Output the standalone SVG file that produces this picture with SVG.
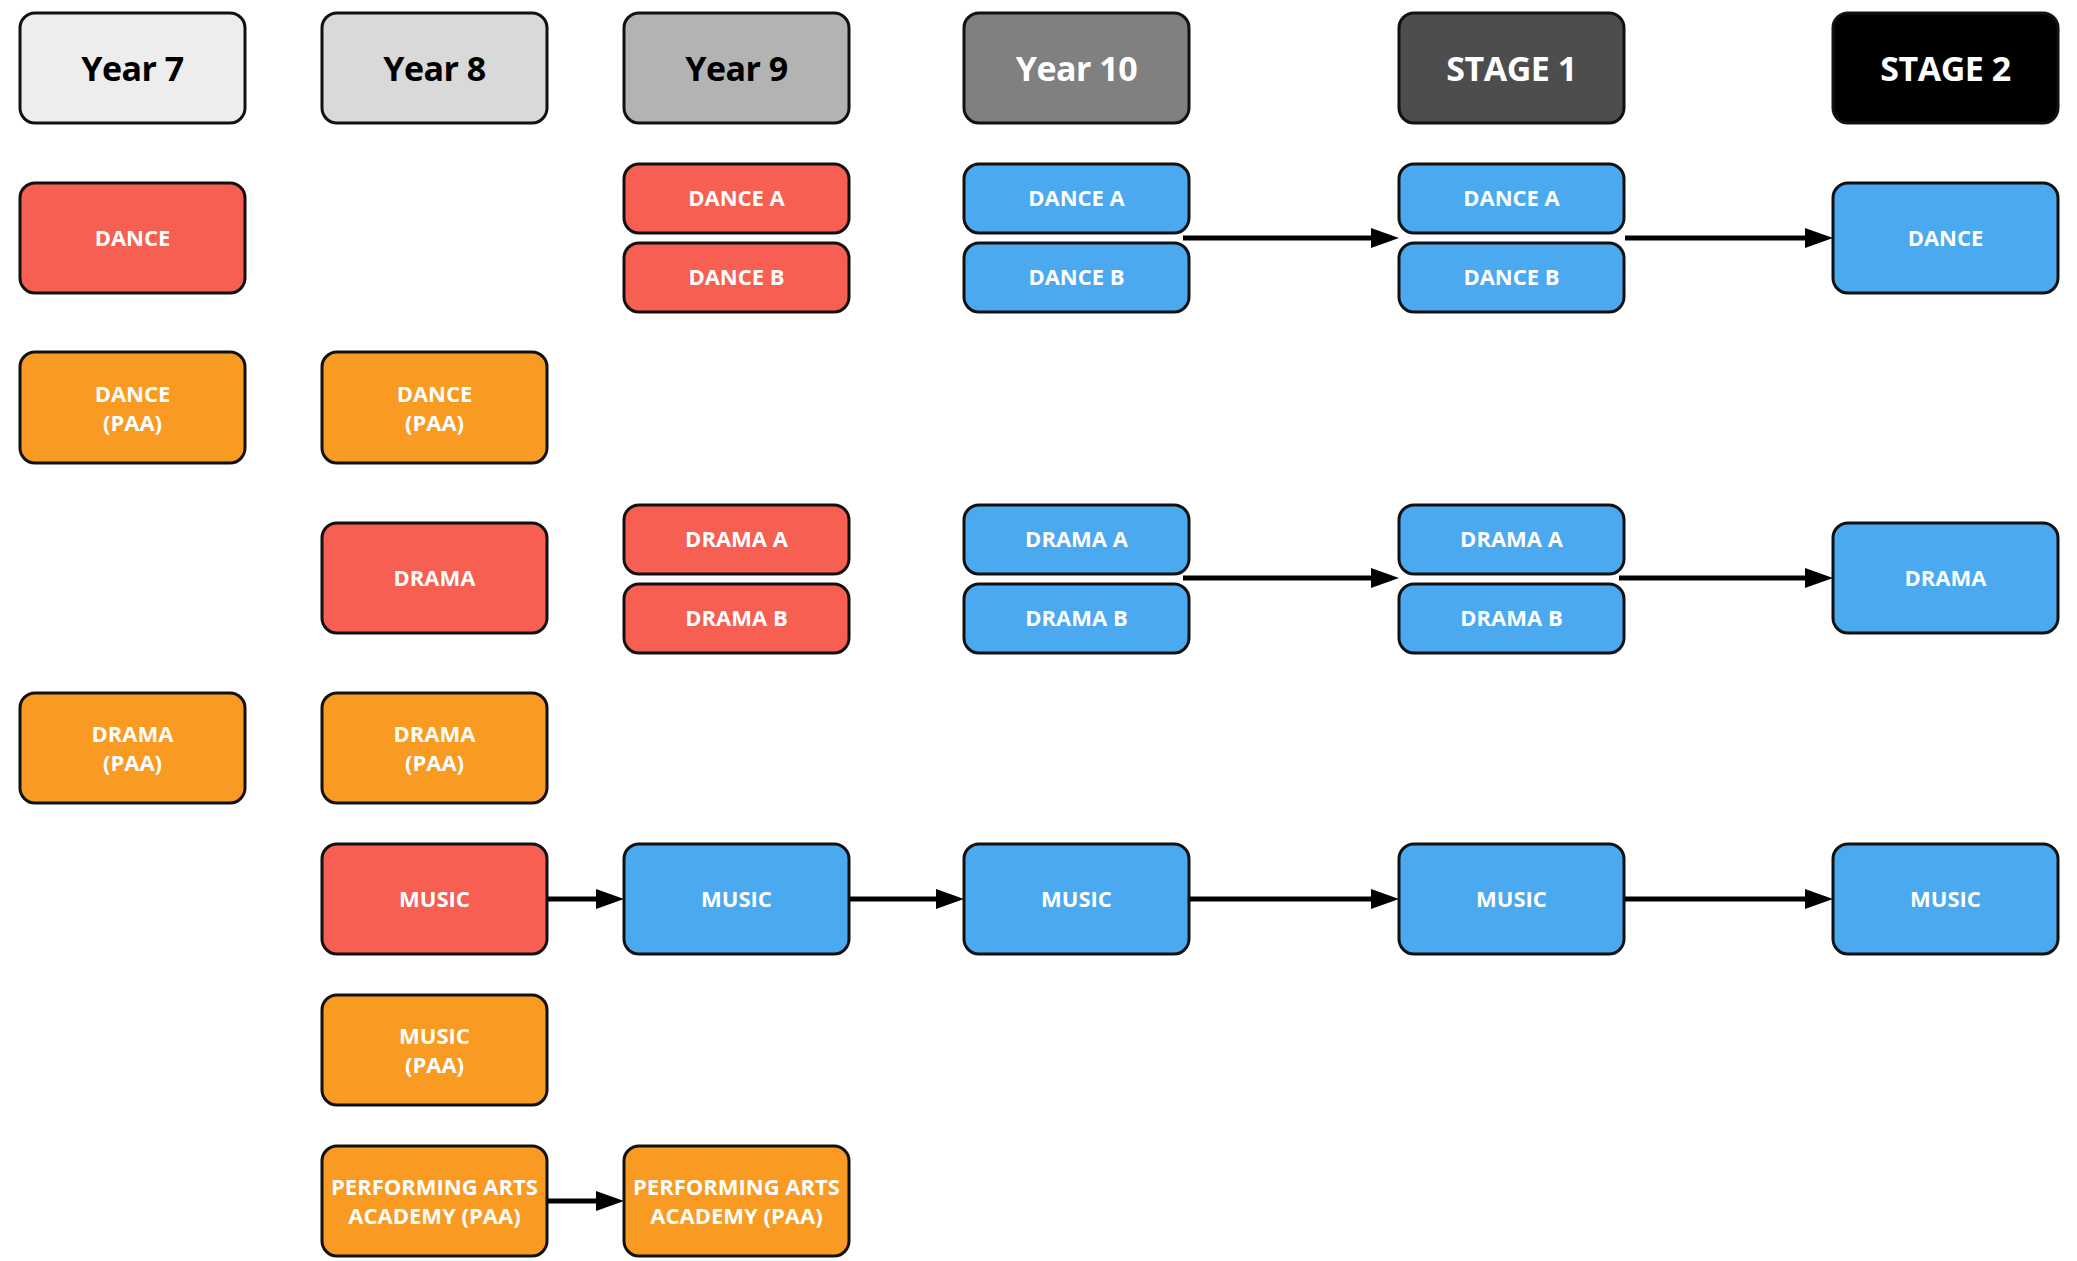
<svg xmlns="http://www.w3.org/2000/svg" width="2077" height="1261" viewBox="0 0 2077 1261">
<style>
.box{stroke:#111;stroke-width:3}
.red{fill:#F65F52}
.org{fill:#F99A22}
.blu{fill:#4BA9F0}
.t{font-family:"Open Sans","Liberation Sans",sans-serif;font-weight:700;font-size:22px;fill:#fff;text-anchor:middle}
.h{font-family:"Open Sans","Liberation Sans",sans-serif;font-weight:700;font-size:34px;text-anchor:middle;letter-spacing:-0.5px}
.c{stroke:#000;stroke-width:5;fill:none;marker-end:url(#ah)}
</style>
<defs>
<marker id="ah" markerUnits="userSpaceOnUse" markerWidth="30" markerHeight="22" refX="8" refY="10" orient="auto">
<path d="M0,0 L28,10 L0,20 Z" fill="#000"/>
</marker>
</defs>
<rect width="2077" height="1261" fill="#fff"/>

<g id="headers">
<g id="h-y7"><rect class="box" x="20" y="13" width="225" height="110" rx="15" fill="#EDEDED"/><text class="h" x="132.5" y="81" fill="#000">Year 7</text></g>
<g id="h-y8"><rect class="box" x="322" y="13" width="225" height="110" rx="15" fill="#D9D9D9"/><text class="h" x="434.5" y="81" fill="#000">Year 8</text></g>
<g id="h-y9"><rect class="box" x="624" y="13" width="225" height="110" rx="15" fill="#B3B3B3"/><text class="h" x="736.5" y="81" fill="#000">Year 9</text></g>
<g id="h-y10"><rect class="box" x="964" y="13" width="225" height="110" rx="15" fill="#808080"/><text class="h" x="1076.5" y="81" fill="#fff">Year 10</text></g>
<g id="h-s1"><rect class="box" x="1399" y="13" width="225" height="110" rx="15" fill="#4D4D4D"/><text class="h" x="1511.5" y="81" fill="#fff">STAGE 1</text></g>
<g id="h-s2"><rect class="box" x="1833" y="13" width="225" height="110" rx="15" fill="#000"/><text class="h" x="1945.5" y="81" fill="#fff">STAGE 2</text></g>
</g>

<g id="y7-dance"><rect class="box red" x="20" y="183" width="225" height="110" rx="15"/><text class="t" x="132.5" y="246">DANCE</text></g>
<g id="y7-dance-paa"><rect class="box org" x="20" y="352" width="225" height="111" rx="15"/><text class="t" x="132.5" y="402">DANCE</text><text class="t" x="132.5" y="431">(PAA)</text></g>
<g id="y7-drama-paa"><rect class="box org" x="20" y="693" width="225" height="110" rx="15"/><text class="t" x="132.5" y="742">DRAMA</text><text class="t" x="132.5" y="771">(PAA)</text></g>

<g id="y8-dance-paa"><rect class="box org" x="322" y="352" width="225" height="111" rx="15"/><text class="t" x="434.5" y="402">DANCE</text><text class="t" x="434.5" y="431">(PAA)</text></g>
<g id="y8-drama"><rect class="box red" x="322" y="523" width="225" height="110" rx="15"/><text class="t" x="434.5" y="586">DRAMA</text></g>
<g id="y8-drama-paa"><rect class="box org" x="322" y="693" width="225" height="110" rx="15"/><text class="t" x="434.5" y="742">DRAMA</text><text class="t" x="434.5" y="771">(PAA)</text></g>
<g id="y8-music"><rect class="box red" x="322" y="844" width="225" height="110" rx="15"/><text class="t" x="434.5" y="907">MUSIC</text></g>
<g id="y8-music-paa"><rect class="box org" x="322" y="995" width="225" height="110" rx="15"/><text class="t" x="434.5" y="1044">MUSIC</text><text class="t" x="434.5" y="1073">(PAA)</text></g>
<g id="y8-paa"><rect class="box org" x="322" y="1146" width="225" height="110" rx="15"/><text class="t" x="434.5" y="1195">PERFORMING ARTS</text><text class="t" x="434.5" y="1224">ACADEMY (PAA)</text></g>

<g id="y9-dance-a"><rect class="box red" x="624" y="164" width="225" height="69" rx="15"/><text class="t" x="736.5" y="206">DANCE A</text></g>
<g id="y9-dance-b"><rect class="box red" x="624" y="243" width="225" height="69" rx="15"/><text class="t" x="736.5" y="285">DANCE B</text></g>
<g id="y9-drama-a"><rect class="box red" x="624" y="505" width="225" height="69" rx="15"/><text class="t" x="736.5" y="547">DRAMA A</text></g>
<g id="y9-drama-b"><rect class="box red" x="624" y="584" width="225" height="69" rx="15"/><text class="t" x="736.5" y="626">DRAMA B</text></g>
<g id="y9-music"><rect class="box blu" x="624" y="844" width="225" height="110" rx="15"/><text class="t" x="736.5" y="907">MUSIC</text></g>
<g id="y9-paa"><rect class="box org" x="624" y="1146" width="225" height="110" rx="15"/><text class="t" x="736.5" y="1195">PERFORMING ARTS</text><text class="t" x="736.5" y="1224">ACADEMY (PAA)</text></g>

<g id="y10-dance-a"><rect class="box blu" x="964" y="164" width="225" height="69" rx="15"/><text class="t" x="1076.5" y="206">DANCE A</text></g>
<g id="y10-dance-b"><rect class="box blu" x="964" y="243" width="225" height="69" rx="15"/><text class="t" x="1076.5" y="285">DANCE B</text></g>
<g id="y10-drama-a"><rect class="box blu" x="964" y="505" width="225" height="69" rx="15"/><text class="t" x="1076.5" y="547">DRAMA A</text></g>
<g id="y10-drama-b"><rect class="box blu" x="964" y="584" width="225" height="69" rx="15"/><text class="t" x="1076.5" y="626">DRAMA B</text></g>
<g id="y10-music"><rect class="box blu" x="964" y="844" width="225" height="110" rx="15"/><text class="t" x="1076.5" y="907">MUSIC</text></g>

<g id="s1-dance-a"><rect class="box blu" x="1399" y="164" width="225" height="69" rx="15"/><text class="t" x="1511.5" y="206">DANCE A</text></g>
<g id="s1-dance-b"><rect class="box blu" x="1399" y="243" width="225" height="69" rx="15"/><text class="t" x="1511.5" y="285">DANCE B</text></g>
<g id="s1-drama-a"><rect class="box blu" x="1399" y="505" width="225" height="69" rx="15"/><text class="t" x="1511.5" y="547">DRAMA A</text></g>
<g id="s1-drama-b"><rect class="box blu" x="1399" y="584" width="225" height="69" rx="15"/><text class="t" x="1511.5" y="626">DRAMA B</text></g>
<g id="s1-music"><rect class="box blu" x="1399" y="844" width="225" height="110" rx="15"/><text class="t" x="1511.5" y="907">MUSIC</text></g>

<g id="s2-dance"><rect class="box blu" x="1833" y="183" width="225" height="110" rx="15"/><text class="t" x="1945.5" y="246">DANCE</text></g>
<g id="s2-drama"><rect class="box blu" x="1833" y="523" width="225" height="110" rx="15"/><text class="t" x="1945.5" y="586">DRAMA</text></g>
<g id="s2-music"><rect class="box blu" x="1833" y="844" width="225" height="110" rx="15"/><text class="t" x="1945.5" y="907">MUSIC</text></g>

<g id="connectors">
<line class="c" x1="1183" y1="238" x2="1379" y2="238"/>
<line class="c" x1="1625" y1="238" x2="1813" y2="238"/>
<line class="c" x1="1183" y1="578" x2="1379" y2="578"/>
<line class="c" x1="1619" y1="578" x2="1813" y2="578"/>
<line class="c" x1="548" y1="899" x2="604" y2="899"/>
<line class="c" x1="850" y1="899" x2="944" y2="899"/>
<line class="c" x1="1190" y1="899" x2="1379" y2="899"/>
<line class="c" x1="1625" y1="899" x2="1813" y2="899"/>
<line class="c" x1="548" y1="1201" x2="604" y2="1201"/>
</g>
</svg>
